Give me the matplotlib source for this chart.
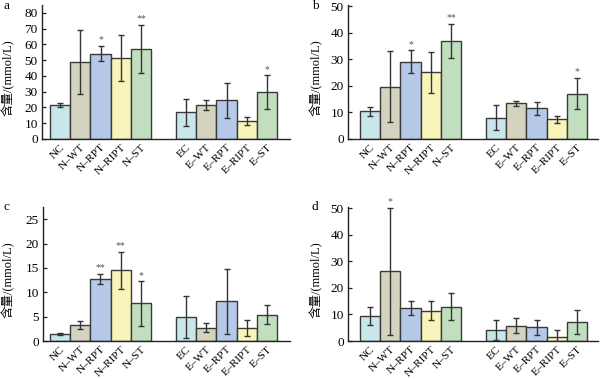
import matplotlib
matplotlib.use("Agg")
import matplotlib.pyplot as plt
import numpy as np

plt.rcParams['font.family'] = ['Liberation Serif', 'Noto Sans CJK SC', 'DejaVu Sans']

categories = ["NC", "N–WT", "N–RPT", "N–RIPT", "N–ST",
              "EC", "E–WT", "E–RPT", "E–RIPT", "E–ST"]

a_vals = [21.4, 49.1, 54.2, 51.2, 57.1, 16.9, 21.6, 24.5, 11.4, 29.6]
a_errs = [1.3, 20.3, 4.7, 14.5, 15.5, 8.7, 2.9, 11.3, 2.3, 10.7]
a_sig = ["", "", "*", "", "**", "", "", "", "", "*"]

b_vals = [10.4, 19.75, 29.1, 25.1, 37.0, 8.0, 13.4, 11.5, 7.4, 17.1]
b_errs = [1.8, 13.25, 4.3, 7.8, 6.5, 4.7, 1.1, 2.6, 1.4, 5.9]
b_sig = ["", "", "*", "", "**", "", "", "", "", "*"]

c_vals = [1.5, 3.35, 12.7, 14.5, 7.7, 5.0, 2.7, 8.15, 2.7, 5.4]
c_errs = [0.2, 0.85, 1.1, 3.8, 4.55, 4.3, 0.9, 6.7, 1.7, 2.0]
c_sig = ["", "", "**", "**", "*", "", "", "", "", ""]

d_vals = [9.5, 26.25, 12.5, 11.4, 13.0, 4.25, 5.75, 5.1, 1.6, 7.25]
d_errs = [3.45, 24.0, 2.6, 3.6, 5.1, 3.8, 2.9, 2.9, 2.6, 4.5]
d_sig = ["", "*", "", "", "", "", "", "", "", ""]

colors = ["#c9e6ea", "#d3d3bf", "#b6c9e8", "#f8f5bb", "#c1dfbf"] * 2

W, H = 600, 379
fig = plt.figure(figsize=(W / 100, H / 100), dpi=100)

gap = 1.24
xpos = np.array([0, 1, 2, 3, 4, 5 + gap, 6 + gap, 7 + gap, 8 + gap, 9 + gap], dtype=float)
barw_px = 20.2

panels = [
    ("a", a_vals, a_errs, a_sig, 42, 290, 139, 5, 85, np.arange(0, 81, 10), 50, (7, 6), 8),
    ("b", b_vals, b_errs, b_sig, 348, 598, 139, 5, 50.5, np.arange(0, 51, 10), 360, (315, 6), 316),
    ("c", c_vals, c_errs, c_sig, 43, 290, 341, 207, 27.5, np.arange(0, 26, 5), 50, (6, 207), 8),
    ("d", d_vals, d_errs, d_sig, 348, 598, 341, 207, 50.5, np.arange(0, 51, 10), 360, (315, 207), 316),
]

for lab, vals, errs, sig, l, r, b, t, ymax, yt, nc0, lpos, ylx in panels:
    ax = fig.add_axes([l / W, 1 - b / H, (r - l) / W, (b - t) / H])
    vals = np.array(vals)
    errs = np.array(errs)
    lower = np.minimum(errs, vals)
    ax.bar(xpos, vals, width=1.0, color=colors, edgecolor="#3a3a3a", linewidth=1.0, zorder=2)
    ax.errorbar(xpos, vals, yerr=[lower, errs], fmt="none", ecolor="#333333",
                elinewidth=1.0, capsize=2.2, capthick=1.0, zorder=3)
    for x, v, e, s in zip(xpos, vals, errs, sig):
        if s:
            ax.text(x, v + e + ymax * 0.012, s, ha="center", va="bottom",
                    fontsize=7, color="#555555")
    left_lim = -0.5 - (nc0 - l) / barw_px
    right_lim = left_lim + (r - l) / barw_px
    ax.set_xlim(left_lim, right_lim)
    ax.set_ylim(0, ymax)
    ax.set_yticks(yt)
    ax.set_yticklabels([str(v) for v in yt], fontsize=9.5)
    ax.set_xticks(xpos)
    ax.set_xticklabels(categories, rotation=45, ha="right", rotation_mode="anchor",
                       fontsize=8.2)
    ax.tick_params(axis="x", length=0, pad=2.5)
    ax.tick_params(axis="y", direction="in", length=3, width=0.9, pad=3, color="#222222")
    for sp in ["top", "right"]:
        ax.spines[sp].set_visible(False)
    for sp in ["left", "bottom"]:
        ax.spines[sp].set_linewidth(1.0)
        ax.spines[sp].set_color("#222222")
    fig.text(lpos[0] / W, 1 - lpos[1] / H, lab, ha="center", va="center", fontsize=9.5)
    fig.text(ylx / W, 1 - ((b + t) / 2 + 6) / H, "含量/(mmol/L)", rotation=90,
             ha="center", va="center", fontsize=9)

fig.savefig("out.png", dpi=100)
